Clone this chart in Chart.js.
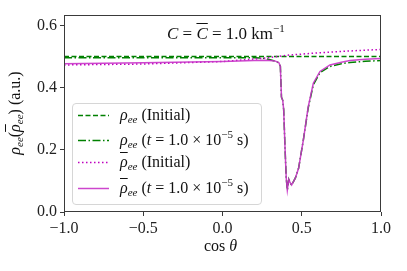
<!DOCTYPE html>
<html>
<head>
<meta charset="utf-8">
<script src="https://cdn.jsdelivr.net/npm/chart.js@4.4.0/dist/chart.umd.min.js"></script>
<style>
  body { margin: 0; background: #fff; }
  #wrap { position: relative; width: 407px; height: 271px; font-family: "Liberation Serif", serif; color: #111; }
  #chart { position: absolute; left: 0; top: 0; }
  .lbl { position: absolute; font-size: 16px; white-space: nowrap; line-height: 1; }
  .it { font-style: italic; }
  .bar { text-decoration: overline; }
  sub { font-size: 11px; font-style: italic; vertical-align: -3px; line-height: 0; }
  sup { font-size: 11px; vertical-align: 7px; line-height: 0; }
  #legend { position: absolute; left: 72px; top: 103px; width: 188px; height: 100px; border: 1px solid #d6d6d6; border-radius: 4px; background: rgba(255,255,255,0.85); }
  .row { position: absolute; left: 5px; height: 20px; }
  .row svg { position: absolute; left: 0; top: 0; }
  .row .lbl { left: 42px; top: 2px; }
</style>
</head>
<body>
<div id="wrap">
  <canvas id="chart" width="407" height="271"></canvas>
  <div class="lbl" style="left:167px; top:24.5px; font-size:17px;"><span class="it">C</span> = <span class="it bar">C</span> = 1.0 km<sup>&minus;1</sup></div>
  <div class="lbl" style="left:204px; top:238px;">cos <span class="it">θ</span></div>
  <div class="lbl" style="left:15px; top:113px; transform: translate(-50%, -50%) rotate(-90deg);"><span class="it">ρ</span><sub>ee</sub>(<span class="it bar">ρ</span><sub>ee</sub>) (a.u.)</div>
  <div id="legend"></div>
</div>
<script>
// valeurs
const xTicks = [-1, -0.5, 0, 0.5, 1]
const yTicks = [0, 0.2, 0.4, 0.6]

// rho_ee initial
const rhoInitX = [-1, 1]
const rhoInitY = [0.501, 0.501]

// rho_ee a t = 1e-5 s
const rhoTX = [-1, -0.5, 0, 0.2, 0.25, 0.3, 0.34, 0.355, 0.365, 0.372, 0.38, 0.386, 0.395, 0.402, 0.409, 0.418, 0.426, 0.436, 0.46, 0.48, 0.51, 0.541, 0.573, 0.615, 0.678, 0.75, 0.804, 0.9, 1]
const rhoTY = [0.497, 0.497, 0.497, 0.497, 0.496, 0.491, 0.485, 0.48, 0.47, 0.37, 0.36, 0.33, 0.2, 0.11, 0.071, 0.105, 0.095, 0.087, 0.11, 0.141, 0.232, 0.336, 0.41, 0.449, 0.469, 0.478, 0.482, 0.486, 0.488]

// rhobar_ee initial
const rhoBarInitX = [-1, -0.5, 0, 0.25, 0.4, 0.6, 0.8, 1]
const rhoBarInitY = [0.474, 0.477, 0.485, 0.495, 0.505, 0.513, 0.519, 0.524]

// rhobar_ee a t = 1e-5 s
const rhoBarTX = [-1, -0.5, 0, 0.2, 0.28, 0.33, 0.355, 0.365, 0.372, 0.38, 0.386, 0.395, 0.402, 0.409, 0.418, 0.426, 0.436, 0.46, 0.48, 0.51, 0.541, 0.573, 0.615, 0.678, 0.75, 0.804, 0.9, 1]
const rhoBarTY = [0.478, 0.481, 0.485, 0.488, 0.489, 0.487, 0.482, 0.47, 0.37, 0.36, 0.33, 0.2, 0.11, 0.071, 0.105, 0.095, 0.087, 0.11, 0.141, 0.232, 0.34, 0.415, 0.453, 0.474, 0.483, 0.488, 0.492, 0.495]

const green = "#008000"
const magenta = "#bf00bf"
const magentaSolid = "rgba(200, 50, 200, 0.9)"
const tickFont = { family: "'Liberation Serif', serif", size: 16 }

function pts(xs, ys) {
  return xs.map((x, i) => ({ x: x, y: ys[i] }))
}

function fmt(v) {
  return (v < 0 ? "\u2212" : "") + Math.abs(v).toFixed(1)
}

// cadre complet autour de la zone de tracé
const boxPlugin = {
  id: "box",
  afterDatasetsDraw(chart) {
    const a = chart.chartArea
    const ctx = chart.ctx
    ctx.save()
    ctx.strokeStyle = "#3a3a3a"
    ctx.lineWidth = 1
    ctx.strokeRect(a.left + 0.5, a.top + 0.5, a.right - a.left - 1, a.bottom - a.top - 1)
    ctx.restore()
  },
}

const series = [
  { label: "rho init", data: pts(rhoInitX, rhoInitY), borderColor: green, borderDash: [5, 2.5], borderWidth: 1.5, order: 4 },
  { label: "rho t", data: pts(rhoTX, rhoTY), borderColor: green, borderDash: [8, 2.5, 1.5, 2.5], borderWidth: 1.5, order: 3 },
  { label: "rhobar init", data: pts(rhoBarInitX, rhoBarInitY), borderColor: magenta, borderDash: [1.5, 2.5], borderWidth: 1.5, order: 2 },
  { label: "rhobar t", data: pts(rhoBarTX, rhoBarTY), borderColor: magentaSolid, borderWidth: 1.5, order: 1 },
]

new Chart(document.getElementById("chart"), {
  type: "line",
  data: {
    datasets: series.map((s) => Object.assign({ pointRadius: 0, fill: false, tension: 0 }, s)),
  },
  options: {
    responsive: false,
    animation: false,
    layout: { padding: { left: 0, top: 15, right: 26, bottom: 0 } },
    plugins: { legend: { display: false }, tooltip: { enabled: false } },
    scales: {
      x: {
        type: "linear",
        min: -1,
        max: 1,
        afterBuildTicks: (s) => { s.ticks = xTicks.map((v) => ({ value: v })) },
        afterFit: (s) => { s.height = 59 },
        border: { display: false },
        grid: { drawOnChartArea: false, tickLength: 4, color: "#3a3a3a" },
        ticks: { color: "#222", font: tickFont, padding: 3, maxRotation: 0, callback: fmt },
      },
      y: {
        type: "linear",
        min: 0,
        max: 0.635,
        afterBuildTicks: (s) => { s.ticks = yTicks.map((v) => ({ value: v })) },
        afterFit: (s) => { s.width = 64 },
        border: { display: false },
        grid: { drawOnChartArea: false, tickLength: 4, color: "#3a3a3a" },
        ticks: { color: "#222", font: tickFont, padding: 3, callback: fmt },
      },
    },
  },
  plugins: [boxPlugin],
})

// légende HTML (indices, barres, exposants)
const legendRows = [
  { y: 1, color: green, dash: "5 2.5", html: '<span class="it">ρ</span><sub>ee</sub> (Initial)' },
  { y: 25.5, color: green, dash: "8 2.5 1.5 2.5", html: '<span class="it">ρ</span><sub>ee</sub> (<span class="it">t</span> = 1.0 × 10<sup>&minus;5</sup> s)' },
  { y: 48, color: magenta, dash: "1.5 2.5", html: '<span class="it bar">ρ</span><sub>ee</sub> (Initial)' },
  { y: 74, color: magentaSolid, dash: "", html: '<span class="it bar">ρ</span><sub>ee</sub> (<span class="it">t</span> = 1.0 × 10<sup>&minus;5</sup> s)' },
]
const legend = document.getElementById("legend")
legendRows.forEach((r) => {
  const row = document.createElement("div")
  row.className = "row"
  row.style.top = r.y + "px"
  row.innerHTML = `
    <svg width="34" height="20"><line x1="0" y1="10.5" x2="31" y2="10.5" stroke="${r.color}" stroke-width="1.5" ${r.dash ? `stroke-dasharray="${r.dash}"` : ""}/></svg>
    <div class="lbl">${r.html}</div>
  `
  legend.appendChild(row)
})
</script>
</body>
</html>
